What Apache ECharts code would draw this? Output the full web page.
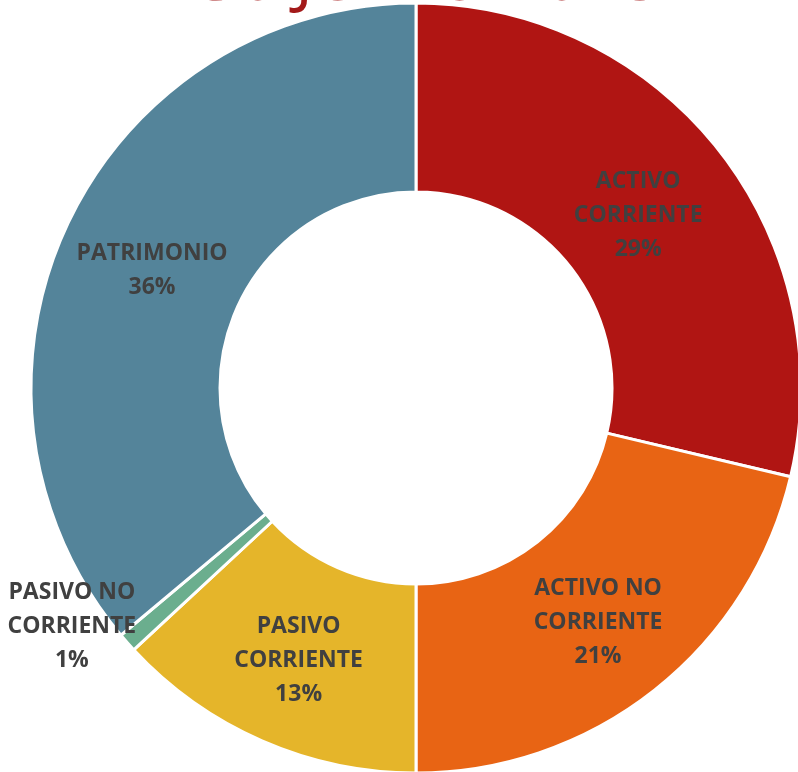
<!DOCTYPE html>
<html>
<head>
<meta charset="utf-8">
<script src="https://cdn.jsdelivr.net/npm/echarts@6/dist/echarts.min.js"></script>
<style>
    html,body{margin:0;padding:0;background:#fff;}
    #chart{width:798px;height:772px;}
</style>
</head>
<body>
<div id="chart"></div>
<script>
// datos del balance
let names=["ACTIVO\nCORRIENTE","ACTIVO NO\nCORRIENTE","PASIVO\nCORRIENTE","PASIVO NO\nCORRIENTE","PATRIMONIO"];
let values=[28.7,21.3,13.1,0.8,36.1];
let colors=["#B01513","#E86414","#E5B52A","#6BAE8E","#54849A"];
// pequeños ajustes de posición de las etiquetas
let labelOffsets=[[-8,10],[0,4],[0,3],[-124,44],[2,7]];

let data=[];
for (let i=0;i<names.length;i++){
    data.push({
        name:names[i],
        value:values[i],
        itemStyle:{color:colors[i]},
        label:{offset:labelOffsets[i]}
    });
}

let myChart=echarts.init(document.getElementById("chart"));
let option={
    animation:false,
    title:{
        text:"A 30 JUNIO 2018",
        left:'center',
        top:-58,
        textStyle:{
            color:'#A31A1A',
            fontSize:68,
            fontWeight:'normal',
            fontFamily:'Open Sans'
        }
    },
    series:[{
        type:'pie',
        center:[416,388],
        radius:[196,385],
        startAngle:90,
        clockwise:true,
        percentPrecision:0,
        itemStyle:{
            borderColor:'#fff',
            borderWidth:3
        },
        label:{
            show:true,
            position:'inside',
            formatter:'{b}\n{d}%',
            color:'#404040',
            fontFamily:'Open Sans',
            fontWeight:'bold',
            fontSize:23,
            lineHeight:34,
            align:'center',
            overflow:'none'
        },
        labelLine:{show:false},
        data:data
    }]
};
myChart.setOption(option);
</script>
</body>
</html>
